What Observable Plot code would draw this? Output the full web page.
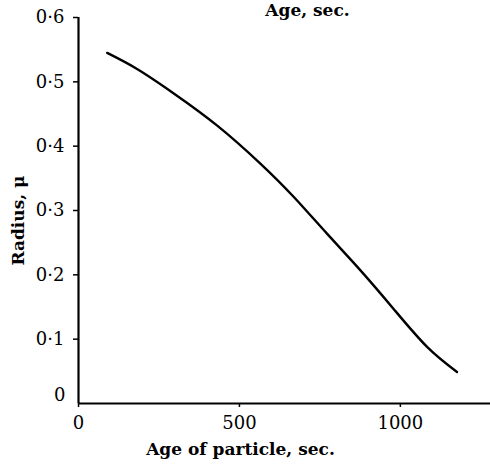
<!DOCTYPE html>
<html><head><meta charset="utf-8">
<script src="https://cdn.jsdelivr.net/npm/d3@7"></script>
<script src="https://cdn.jsdelivr.net/npm/@observablehq/plot@0.6"></script>
<style>body{margin:0;background:#fff}</style>
</head><body><div id="chart"></div>
<script>
const ageSec = [89, 182, 296, 431, 565, 669, 772, 876, 979, 1083, 1176];
const radiusMu = [0.545, 0.520, 0.482, 0.432, 0.373, 0.321, 0.264, 0.207, 0.147, 0.088, 0.049];
const xTicks = [0, 500, 1000];
const yTicks = [0.1, 0.2, 0.3, 0.4, 0.5, 0.6];
const yZeroTick = [0];
const xLabel = "Age of particle, sec.";
const yLabel = "Radius, μ";
const topLabel = "Age, sec.";

const data = ageSec.map((a, i) => ({age: a, r: radiusMu[i]}));
const fmtY = d => d === 0 ? "0" : d.toFixed(1).replace(".", "·");
const fmtX = d => String(d);
const font = "DejaVu Serif, Liberation Serif, serif";

const plot = Plot.plot({
  width: 490, height: 464,
  marginLeft: 78, marginRight: 0, marginTop: 17, marginBottom: 61,
  style: {fontFamily: font, fontSize: "18px", color: "#000", background: "#fff"},
  x: {domain: [0, 1280]},
  y: {domain: [0, 0.6]},
  marks: [
    Plot.axisX(xTicks, {tickSize: 4, tickPadding: 9, tickFormat: fmtX, label: null, strokeWidth: 1.5, fontSize: 18}),
    Plot.axisY(yTicks, {tickSize: 5, tickPadding: 9, tickFormat: fmtY, label: null, strokeWidth: 1.5, fontSize: 18}),
    Plot.axisY(yZeroTick, {tickSize: 0, tickPadding: 13, dy: -8, tickFormat: fmtY, label: null, fontSize: 18}),
    Plot.ruleX([0], {strokeWidth: 2.2}),
    Plot.ruleY([0], {strokeWidth: 2.2}),
    Plot.line(data, {x: "age", y: "r", strokeWidth: 2.4, curve: "natural", stroke: "#000"}),
    Plot.text([xLabel], {frameAnchor: "bottom", textAnchor: "middle", dx: -44, dy: 51, fontWeight: "bold", fontSize: 17, text: d => d}),
    Plot.text([yLabel], {frameAnchor: "left", textAnchor: "middle", rotate: -90, dx: -60, dy: 10, fontWeight: "bold", fontSize: 17, text: d => d}),
    Plot.text([topLabel], {frameAnchor: "top", textAnchor: "middle", dx: 23, dy: -2, lineAnchor: "bottom", fontWeight: "bold", fontSize: 17, text: d => d})
  ]
});
document.getElementById("chart").appendChild(plot);
</script></body></html>
